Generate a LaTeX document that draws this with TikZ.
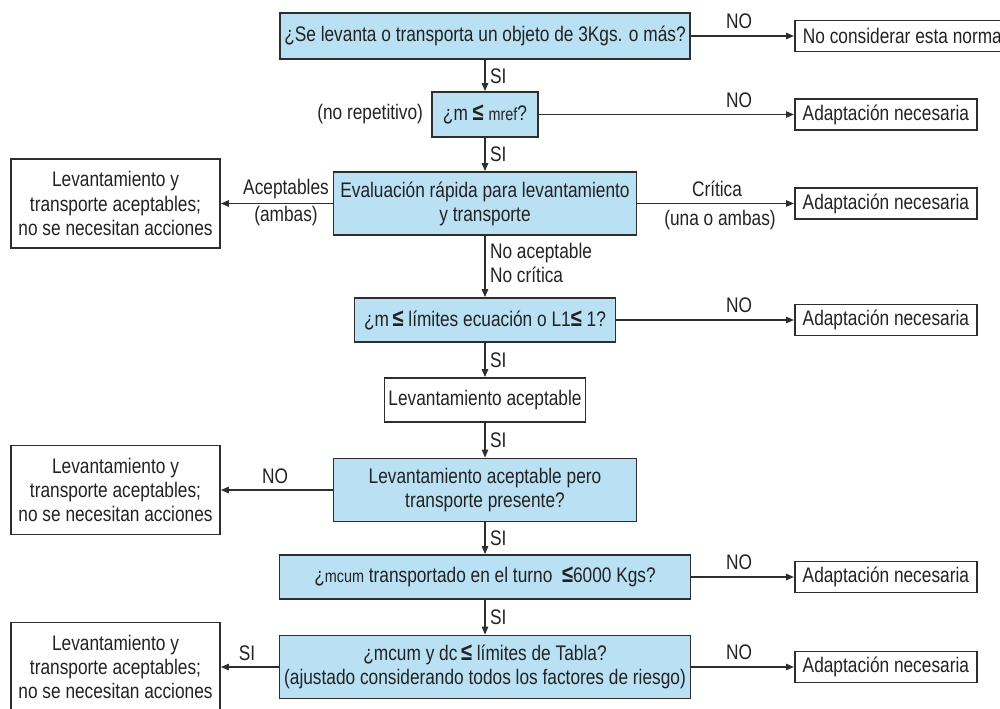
\documentclass[tikz,border=0pt]{standalone}
\usepackage{fontspec}
\setmainfont{Liberation Sans}[FakeStretch=0.82]
\usepackage{tikz}
\usetikzlibrary{arrows.meta,positioning}
\definecolor{fcInk}{HTML}{222222}
\definecolor{fcLine}{HTML}{2E2E2E}
\definecolor{fcBlue}{HTML}{BAE1F3}
\newcommand{\leqsym}{{\fontsize{14}{14}\selectfont\textbf{≤}}}
\newcommand{\smallm}[1]{{\fontsize{10}{11}\selectfont #1}}
\tikzset{
  % Blue question box
  qbox/.style={rectangle,draw=fcLine,line width=1pt,fill=fcBlue,
    align=center,inner sep=2pt,
    font=\fontsize{12}{13.7}\selectfont,text=fcInk},
  % White result box
  abox/.style={rectangle,draw=fcLine,line width=1pt,fill=white,
    align=center,inner sep=2pt,
    font=\fontsize{12}{13.7}\selectfont,text=fcInk},
  % Right result box (one line)
  rbox/.style={abox,anchor=west,minimum width=3.64cm,minimum height=0.62cm},
  % Left result box (three lines)
  lbox/.style={abox,minimum width=4.18cm,minimum height=1.78cm},
  % Arrows
  arr/.style={-{Triangle[length=4.5pt,width=3.6pt]},line width=0.8pt,color=fcLine},
  lbl/.style={font=\fontsize{12}{13.7}\selectfont,text=fcInk,inner sep=1pt},
}
\begin{document}
\begin{tikzpicture}[x=0.02cm,y=-0.02cm]
  \useasboundingbox (0,0) rectangle (1000,709);

  %% --- MAIN COLUMN ---
  \node[qbox,minimum width=8.2cm,minimum height=0.92cm] (q1) at (485,36)
    {¿Se levanta o transporta un objeto de 3Kgs. o más?};
  \node[qbox,minimum width=2.12cm,minimum height=0.9cm] (q2) at (485,114.5)
    {¿m \leqsym\ \smallm{mref}?};
  \node[qbox,minimum width=6.06cm,minimum height=1.26cm] (q3) at (485,203.5)
    {Evaluación rápida para levantamiento\\y transporte};
  \node[qbox,minimum width=5.22cm,minimum height=0.88cm] (q4) at (485,320)
    {¿m\,\leqsym\ límites ecuación o L1\leqsym\ 1?};
  \node[abox,minimum width=4.02cm,minimum height=0.88cm] (a5) at (485,400)
    {Levantamiento aceptable};
  \node[qbox,minimum width=6.06cm,minimum height=1.26cm] (q6) at (485,490)
    {Levantamiento aceptable pero\\transporte presente?};
  \node[qbox,minimum width=8.22cm,minimum height=0.88cm] (q7) at (485,577)
    {¿\smallm{mcum} transportado en el turno\ \ \leqsym6000 Kgs?};
  \node[qbox,minimum width=8.22cm,minimum height=1.26cm] (q8) at (485,667)
    {¿mcum y dc\,\leqsym\ límites de Tabla?\\(ajustado considerando todos los factores de riesgo)};

  \draw[arr] (q1) -- (q2);
  \draw[arr] (q2) -- (q3);
  \draw[arr] (q3) -- (q4);
  \draw[arr] (q4) -- (a5);
  \draw[arr] (a5) -- (q6);
  \draw[arr] (q6) -- (q7);
  \draw[arr] (q7) -- (q8);

  \node[lbl,anchor=west] (si1) at (488,76) {SI};
  \node[lbl,anchor=west] (si2) at (488,154.5) {SI};
  \node[lbl,anchor=west,align=left] (nac) at (488,263) {No aceptable\\No crítica};
  \node[lbl,anchor=west] (si4) at (488,360) {SI};
  \node[lbl,anchor=west] (si5) at (488,440) {SI};
  \node[lbl,anchor=west] (si6) at (488,538) {SI};
  \node[lbl,anchor=west] (si7) at (488,617) {SI};
  \node[lbl,left=0.12cm of q2] (norep) {(no repetitivo)};

  %% --- RIGHT SIDE ---
  \node[rbox,minimum width=4.3cm] (r1) at (794,36) {No considerar esta norma};
  \node[rbox] (r2) at (794,114.5) {Adaptación necesaria};
  \node[rbox] (r3) at (794,203.5) {Adaptación necesaria};
  \node[rbox] (r4) at (794,320) {Adaptación necesaria};
  \node[rbox] (r7) at (794,577) {Adaptación necesaria};
  \node[rbox] (r8) at (794,667) {Adaptación necesaria};

  \draw[arr] (q1) -- (r1);
  \draw[arr] (q2) -- (r2);
  \draw[arr] (q3) -- (r3);
  \draw[arr] (q4) -- (r4);
  \draw[arr] (q7) -- (r7);
  \draw[arr] (q8) -- (r8);

  \node[lbl] (no1) at (739,21) {NO};
  \node[lbl] (no2) at (739,100) {NO};
  \node[lbl] (crit) at (717,189) {Crítica};
  \node[lbl] (una) at (720,220) {(una o ambas)};
  \node[lbl] (no4) at (739,305) {NO};
  \node[lbl] (no7) at (739,562) {NO};
  \node[lbl] (no8) at (739,652) {NO};

  %% --- LEFT SIDE ---
  \node[lbox] (l1) at (115.5,203.5)
    {Levantamiento y\\transporte aceptables;\\no se necesitan acciones};
  \node[lbox] (l2) at (115.5,490)
    {Levantamiento y\\transporte aceptables;\\no se necesitan acciones};
  \node[lbox] (l3) at (115.5,667)
    {Levantamiento y\\transporte aceptables;\\no se necesitan acciones};

  \draw[arr] (q3) -- (l1);
  \draw[arr] (q6) -- (l2);
  \draw[arr] (q8) -- (l3);

  \node[lbl] (acep) at (286,189) {Aceptables};
  \node[lbl] (amb) at (286,216) {(ambas)};
  \node[lbl] (no6) at (275,476) {NO};
  \node[lbl] (si8) at (247,653) {SI};
\end{tikzpicture}
\end{document}
